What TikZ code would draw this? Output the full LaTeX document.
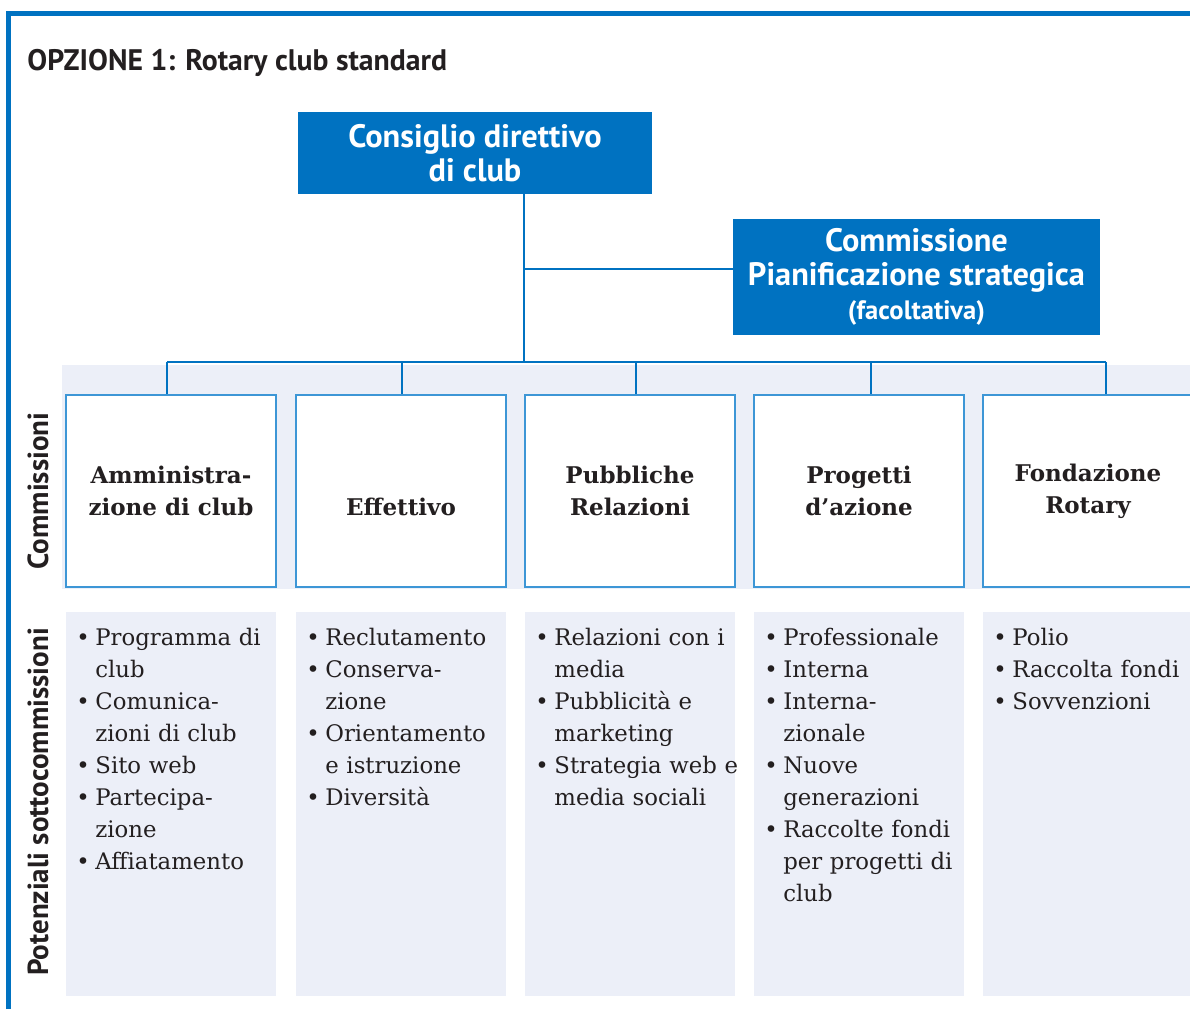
\documentclass[tikz,border=0pt]{standalone}
\usepackage{fontspec}
\setmainfont{DejaVu Serif}
\setsansfont{PT Sans}
\usetikzlibrary{positioning}

\definecolor{rotblu}{HTML}{0072C1}
\definecolor{rotcel}{HTML}{3D96D6}
\definecolor{rotfondo}{HTML}{ECEFF8}
\definecolor{rottesto}{HTML}{231F20}

\newcommand{\voce}[1]{\hangindent=9.5pt\hangafter=1\noindent\makebox[9.5pt][l]{\textbullet}#1\par}

\tikzset{
  boxblu/.style={fill=rotblu, text=white, align=center, inner sep=0pt,
    font=\sffamily\bfseries\fontsize{16.2}{17}\selectfont},
  commbox/.style={draw=rotcel, line width=1pt, fill=white, minimum width=105pt,
    minimum height=96pt, align=center, text=rottesto, inner sep=0pt,
    font=\bfseries\fontsize{11.5}{16}\selectfont},
  subbox/.style={fill=rotfondo, minimum width=105pt, minimum height=192pt, inner sep=0pt},
  elenco/.style={anchor=base west, text width=104pt, inner sep=0pt,
    text=rottesto, font=\fontsize{11.4}{16}\selectfont},
  conn/.style={draw=rotblu, line width=1.2pt},
  etichetta/.style={rotate=90, text=rottesto, inner sep=0pt,
    font=\sffamily\bfseries\fontsize{14.5}{16}\selectfont}
}

\begin{document}
\begin{tikzpicture}[x=0.5pt,y=-0.5pt]
\useasboundingbox (0,0) rectangle (1190,1009);
% cornice
\draw[rotblu, line width=2.5pt] (8.5,1009) -- (8.5,13.5) -- (1190,13.5);
\node[anchor=base west, inner sep=0pt, text=rottesto,
  font=\sffamily\bfseries\fontsize{14.85}{17}\selectfont] (titolo) at (27,70)
  {OPZIONE 1: Rotary club standard};

% vertice
\node[boxblu, minimum width=177pt, minimum height=41pt] (cdc) at (475,153)
  {Consiglio direttivo\\di club};
\node[boxblu, minimum width=183.5pt, minimum height=58pt] (cps) at (916.5,277)
  {Commissione\\Pianificazione strategica\\{\fontsize{13.3}{17}\selectfont(facoltativa)}};

% fascia delle commissioni
\fill[rotfondo] (62,365) rectangle (1190,589);

\foreach \i/\cx/\nome in {1/171/{Amministra-\\zione di club},
    2/401/{\vphantom{Ag}\\Effettivo}, 3/630/{Pubbliche\\Relazioni},
    4/859/{Progetti\\d’azione}, 5/1088/{Fondazione\\Rotary}}
  \node[commbox] (k\i) at (\cx,491) {\nome};

\foreach \i/\cx in {1/171,2/401,3/630,4/859,5/1088}
  \node[subbox] (s\i) at (\cx,804) {};

% collegamenti
\coordinate (tronco) at (524,362);
\coordinate (ramo) at (524,269);
\draw[conn] (tronco |- cdc.south) -- (tronco);
\draw[conn] (ramo) -- (ramo -| cps.west);
\foreach \i/\x in {1/167,2/402,3/636,4/871,5/1106}{
  \coordinate (bus\i) at (\x,362);
  \draw[conn] (bus\i) -- (bus\i |- k\i.north);
}
\draw[conn] (bus1) -- (bus5);

% etichette laterali
\node[etichetta] (lcomm) at (38,491) {Commissioni};
\node[etichetta] (lsotto) at (38,802) {Potenziali sottocommissioni};

% sottocommissioni
\node[elenco] (e1) at (76,645) {\voce{Programma di\newline club}\voce{Comunica-\newline zioni di club}%
  \voce{Sito web}\voce{Partecipa-\newline zione}\voce{Affiatamento}};
\node[elenco] (e2) at (306,645) {\voce{Reclutamento}\voce{Conserva-\newline zione}%
  \voce{Orientamento\newline e istruzione}\voce{Diversità}};
\node[elenco] (e3) at (535,645) {\voce{Relazioni con i\newline media}\voce{Pubblicità e\newline marketing}%
  \voce{Strategia web e\newline media sociali}};
\node[elenco] (e4) at (764,645) {\voce{Professionale}\voce{Interna}\voce{Interna-\newline zionale}%
  \voce{Nuove\newline generazioni}\voce{Raccolte fondi\newline per progetti di\newline club}};
\node[elenco] (e5) at (993,645) {\voce{Polio}\voce{Raccolta fondi}\voce{Sovvenzioni}};
\end{tikzpicture}
\end{document}
